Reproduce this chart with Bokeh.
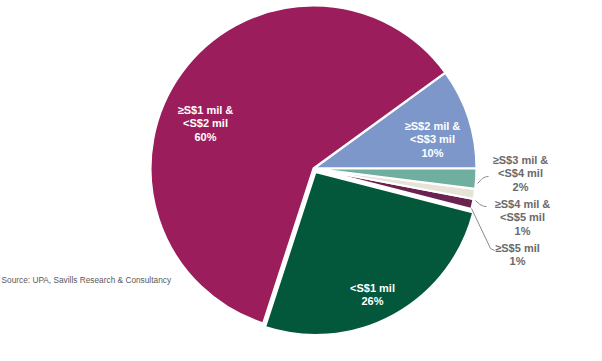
import numpy as np
from bokeh.plotting import figure
from bokeh.models import Range1d, ColumnDataSource
from bokeh.core.properties import value
from bokeh.embed import file_html
from bokeh.resources import INLINE

# ---- data (drawn counter-clockwise from 3 o'clock) ----
categories = ["≥S$2 mil &\n<S$3 mil", "≥S$1 mil &\n<S$2 mil", "<S$1 mil",
              "≥S$5 mil", "≥S$4 mil &\n<S$5 mil", "≥S$3 mil &\n<S$4 mil"]
shares = [10, 60, 26, 1, 1, 2]
colors = ["#7E97CB", "#9C1D5B", "#03573A", "#6A2351", "#E7E3D7", "#70AEA0"]
explode = [0, 0, 4, 0, 0, 0]
source_note = "Source: UPA, Savills Research & Consultancy"

W, H = 602, 361
p = figure(width=W, height=H, output_backend="svg", toolbar_location=None,
           x_range=Range1d(0, W), y_range=Range1d(0, H), min_border=0)
p.axis.visible = False
p.grid.visible = False
p.outline_line_color = None
p.background_fill_color = "white"

def Y(sy):
    return H - sy

cx, cy, r = 313, Y(168), 163
vals = np.array(shares, dtype=float)
frac = vals / vals.sum()
ends = np.cumsum(frac) * 2 * np.pi
starts = ends - frac * 2 * np.pi
mids = (starts + ends) / 2
xs = cx + np.array(explode) * np.cos(mids)
ys = cy + np.array(explode) * np.sin(mids)

src = ColumnDataSource(dict(x=xs, y=ys, s=starts, e=ends, c=colors))
p.wedge(x="x", y="y", radius=r, start_angle="s", end_angle="e",
        fill_color="c", line_color="white", line_width=2.2, source=src)

# ---- labels ----
inside_pos = {0: (432, 125), 1: (205, 109), 2: (372, 287)}
outside_pos = {5: (520, 159), 4: (522, 203), 3: (517, 247)}

def add_label(i, pos, color):
    lines = categories[i].split("\n") + [f"{shares[i]}%"]
    lx, ly = pos
    for k, t in enumerate(lines):
        p.text(x=[lx], y=[Y(ly + k * 13.7)], text=[t], text_align="center",
               text_baseline="middle", text_color=color,
               text_font=value("Liberation Sans"), text_font_style="bold",
               text_font_size="11px")

for i, pos in inside_pos.items():
    add_label(i, pos, "white")
for i, pos in outside_pos.items():
    add_label(i, pos, "#6A6A6A")

# ---- leader lines ----
lc = "#8A8A8A"
p.bezier(x0=[477], y0=[Y(183)], x1=[488], y1=[Y(176)],
         cx0=[481], cy0=[Y(179)], cx1=[483], cy1=[Y(176)], line_color=lc, line_width=1)
p.bezier(x0=[475], y0=[Y(200)], x1=[486], y1=[Y(206)],
         cx0=[479], cy0=[Y(204)], cx1=[482], cy1=[Y(206)], line_color=lc, line_width=1)
p.line(x=[471, 490, 494], y=[Y(208), Y(248), Y(250)], line_color=lc, line_width=1)

# ---- source note ----
p.text(x=[1], y=[Y(279)], text=[source_note], text_align="left",
       text_baseline="middle", text_color="#5A5A5A",
       text_font=value("Liberation Sans"), text_font_size="8.3px")

open("out.html", "w").write(file_html(p, INLINE))
